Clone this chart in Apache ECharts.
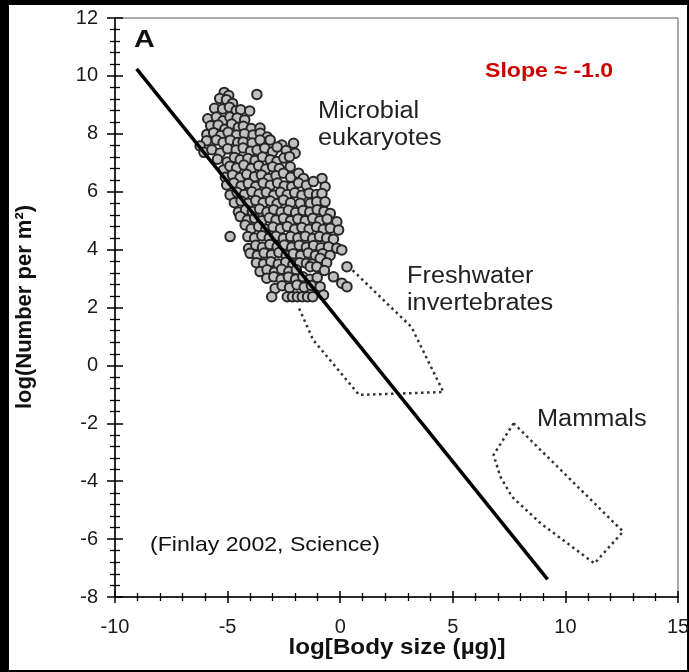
<!DOCTYPE html>
<html>
<head>
<meta charset="utf-8">
<script src="https://cdn.jsdelivr.net/npm/echarts@6/dist/echarts.min.js"></script>
<style>
  html, body { margin: 0; padding: 0; background: #000; }
  #sheet { position: absolute; left: 9px; top: 5px; width: 678px; height: 665px; background: #fff; }
  #chart { position: absolute; left: 0; top: 0; width: 689px; height: 672px; }
</style>
</head>
<body>
<div id="sheet"></div>
<div id="chart"></div>
<script>
// Axis ticks (log10 units)
const xTicks = [-10, -5, 0, 5, 10, 15];
const yTicks = [-8, -6, -4, -2, 0, 2, 4, 6, 8, 10, 12];

// Microbial eukaryotes: [log body size (µg), log number per m²]
const microbialPoints = [
  [-5.15, 9.43], [-4.95, 9.32], [-3.70, 9.36],
  [-5.35, 9.22], [-5.05, 9.18], [-4.78, 9.05],
  [-5.58, 8.88], [-5.22, 8.86], [-4.92, 8.92], [-4.62, 8.80], [-4.42, 8.83], [-4.02, 8.79],
  [-5.88, 8.52], [-5.50, 8.58], [-5.20, 8.45], [-4.90, 8.58], [-4.58, 8.55], [-4.24, 8.48],
  [-5.75, 8.28], [-5.42, 8.30], [-5.12, 8.16], [-4.82, 8.34], [-4.52, 8.22], [-4.30, 8.26], [-3.95, 8.18], [-3.56, 8.20],
  [-5.92, 7.98], [-5.62, 8.04], [-5.30, 7.94], [-4.98, 8.05], [-4.60, 7.96], [-4.25, 8.00], [-3.87, 7.96], [-3.55, 8.02], [-3.24, 7.89],
  [-5.93, 7.76], [-5.50, 7.79], [-5.20, 7.70], [-4.88, 7.78], [-4.55, 7.70], [-4.31, 7.72], [-3.91, 7.68], [-3.56, 7.79], [-3.11, 7.79], [-2.59, 7.61], [-2.07, 7.67],
  [-6.22, 7.58], [-6.05, 7.36], [-5.70, 7.45], [-5.33, 7.34], [-5.00, 7.48], [-4.62, 7.44], [-4.31, 7.51], [-3.98, 7.40], [-3.69, 7.44], [-3.35, 7.50], [-3.00, 7.38], [-2.80, 7.54], [-2.40, 7.42], [-2.00, 7.33],
  [-5.45, 7.12], [-5.02, 7.03], [-4.70, 7.18], [-4.44, 7.10], [-4.10, 7.15], [-3.78, 7.08], [-3.45, 7.20], [-3.11, 7.10], [-2.81, 7.04], [-2.50, 7.16], [-2.25, 7.21],
  [-5.19, 6.75], [-4.90, 6.88], [-4.60, 6.82], [-4.28, 6.92], [-3.95, 6.80], [-3.62, 6.90], [-3.30, 6.78], [-3.00, 6.86], [-2.70, 6.80], [-2.22, 6.86],
  [-5.10, 6.50], [-4.78, 6.58], [-4.45, 6.48], [-4.15, 6.60], [-3.80, 6.52], [-3.50, 6.58], [-3.18, 6.46], [-2.85, 6.55], [-2.52, 6.64], [-2.20, 6.50], [-1.85, 6.64], [-1.63, 6.46], [-0.81, 6.46],
  [-5.04, 6.23], [-4.72, 6.30], [-4.40, 6.20], [-4.08, 6.28], [-3.75, 6.18], [-3.42, 6.30], [-3.10, 6.22], [-2.78, 6.30], [-2.48, 6.20], [-2.15, 6.17], [-1.85, 6.30], [-1.50, 6.22], [-1.19, 6.35], [-0.67, 6.17],
  [-4.89, 5.89], [-4.58, 5.98], [-4.25, 5.90], [-3.92, 6.00], [-3.60, 5.92], [-3.28, 5.98], [-2.95, 5.88], [-2.65, 5.98], [-2.35, 5.90], [-2.02, 5.96], [-1.70, 5.88], [-1.38, 5.95], [-1.05, 5.90], [-0.81, 5.94],
  [-4.70, 5.62], [-4.40, 5.68], [-4.08, 5.60], [-3.75, 5.70], [-3.42, 5.62], [-3.10, 5.68], [-2.80, 5.58], [-2.52, 5.71], [-2.20, 5.62], [-1.78, 5.60], [-1.33, 5.60], [-1.04, 5.65], [-0.67, 5.65],
  [-4.52, 5.30], [-4.20, 5.38], [-3.90, 5.32], [-3.58, 5.40], [-3.25, 5.30], [-2.95, 5.38], [-2.62, 5.30], [-2.30, 5.36], [-1.98, 5.28], [-1.65, 5.35], [-1.35, 5.30], [-1.02, 5.38], [-0.72, 5.32], [-0.44, 5.25],
  [-4.44, 5.14], [-4.12, 5.02], [-3.80, 5.08], [-3.48, 5.00], [-3.15, 5.10], [-2.85, 5.02], [-2.52, 5.08], [-2.20, 5.00], [-1.88, 5.06], [-1.55, 5.00], [-1.22, 5.08], [-0.90, 5.00], [-0.58, 5.06], [-0.15, 4.96],
  [-4.22, 4.85], [-3.95, 4.72], [-3.62, 4.80], [-3.30, 4.70], [-2.98, 4.78], [-2.65, 4.72], [-2.35, 4.80], [-2.02, 4.70], [-1.70, 4.76], [-1.38, 4.70], [-1.05, 4.78], [-0.75, 4.70], [-0.44, 4.74], [-0.07, 4.68], [-4.89, 4.45],
  [-4.10, 4.45], [-3.80, 4.40], [-3.48, 4.48], [-3.15, 4.40], [-2.85, 4.46], [-2.52, 4.38], [-2.20, 4.45], [-1.88, 4.40], [-1.55, 4.46], [-1.22, 4.38], [-0.92, 4.45], [-0.60, 4.40], [-0.30, 4.36],
  [-4.07, 4.04], [-3.75, 4.15], [-3.45, 4.08], [-3.12, 4.18], [-2.80, 4.10], [-2.48, 4.16], [-2.15, 4.08], [-1.82, 4.15], [-1.50, 4.08], [-1.18, 4.14], [-0.85, 4.06], [-0.52, 4.10], [-0.15, 4.05], [0.07, 3.99],
  [-4.00, 3.87], [-3.68, 3.80], [-3.38, 3.88], [-3.05, 3.82], [-2.72, 3.90], [-2.40, 3.80], [-2.08, 3.86], [-1.75, 3.80], [-1.42, 3.88], [-1.10, 3.80], [-0.78, 3.86], [-0.45, 3.80],
  [-3.72, 3.55], [-3.40, 3.50], [-3.08, 3.58], [-2.75, 3.50], [-2.42, 3.56], [-2.10, 3.48], [-1.80, 3.55], [-1.50, 3.53], [-1.25, 3.50], [-0.89, 3.70], [-0.60, 3.55],
  [-3.56, 3.24], [-3.25, 3.30], [-2.92, 3.22], [-2.60, 3.32], [-2.28, 3.24], [-1.95, 3.30], [-1.33, 3.41], [-1.04, 3.41], [-0.70, 3.28], [0.30, 3.41],
  [-3.26, 3.01], [-2.95, 3.06], [-2.62, 2.98], [-2.30, 3.05], [-1.98, 2.98], [-1.66, 3.06], [-1.35, 2.98], [-1.02, 3.04], [-0.30, 3.06],
  [-2.89, 2.66], [-2.58, 2.75], [-2.25, 2.68], [-1.92, 2.78], [-1.60, 2.70], [-1.28, 2.76], [-0.89, 2.72], [0.07, 2.84], [0.30, 2.72],
  [-3.04, 2.37], [-2.35, 2.37], [-2.12, 2.37], [-1.90, 2.37], [-1.68, 2.37], [-1.45, 2.37], [-1.22, 2.37], [-0.74, 2.43]
];

// Outline of the freshwater invertebrate range (dotted envelope)
const freshwaterOutline = [
  [0.36, 3.43], [3.16, 1.33], [4.58, -0.92], [0.84, -1.02], [-1.20, 0.88], [-1.87, 2.05]
];

// Outline of the mammal range (dotted envelope)
const mammalOutline = [
  [7.70, -2.00], [6.81, -3.09], [7.11, -3.84], [7.63, -4.54], [8.89, -5.45],
  [11.29, -6.84], [12.56, -5.74], [7.70, -2.00]
];

// Fitted abundance–size line, slope ≈ -1
const fitLine = [[-9.04, 10.24], [9.21, -7.39]];

const FONT = '"Liberation Sans", Arial, Helvetica, sans-serif';

function valueAxes(ticks, pos, majorLen, minorLen, labelMargin) {
  const step = ticks[1] - ticks[0];
  const base = {
    type: 'value',
    position: pos,
    min: ticks[0],
    max: ticks[ticks.length - 1],
    interval: step,
    splitLine: { show: false },
    minorSplitLine: { show: false }
  };
  // outward half of each tick, with labels
  const outer = Object.assign({}, base, {
    axisLine: { show: true, onZero: false, lineStyle: { color: '#000', width: 1.5 } },
    axisTick: { show: true, inside: false, length: majorLen, lineStyle: { color: '#000', width: 1.5 } },
    minorTick: { show: true, splitNumber: 5, length: minorLen, lineStyle: { color: '#000', width: 1.3 } },
    axisLabel: {
      show: true, fontFamily: FONT, fontSize: 20, color: '#1a1a1a', margin: labelMargin,
      showMinLabel: true, showMaxLabel: true, hideOverlap: false
    }
  });
  // inward half of each tick, so the ticks cross the axis line
  const inner = Object.assign({}, base, {
    axisLine: { show: false, onZero: false },
    axisTick: { show: true, inside: false, length: -majorLen, lineStyle: { color: '#000', width: 1.5 } },
    minorTick: { show: true, splitNumber: 5, length: -minorLen, lineStyle: { color: '#000', width: 1.3 } },
    axisLabel: { show: false }
  });
  return [outer, inner];
}

const chart = echarts.init(document.getElementById('chart'), null, { renderer: 'canvas' });

const textColor = '#222';

chart.setOption({
  backgroundColor: 'transparent',
  animation: false,
  grid: {
    left: 115, top: 18, right: 11, bottom: 75,
    show: true, borderColor: '#555', borderWidth: 1, backgroundColor: 'transparent',
    containLabel: false, outerBoundsMode: 'none'
  },
  xAxis: valueAxes(xTicks, 'bottom', 6, 4, 20),
  yAxis: valueAxes(yTicks, 'left', 8, 5, 17),
  series: [
    {
      name: 'Freshwater invertebrates', type: 'line', data: freshwaterOutline,
      xAxisIndex: 0, yAxisIndex: 0, symbol: 'none', silent: true, z: 1,
      lineStyle: { color: '#333', width: 2.5, type: [2.5, 3.5], cap: 'butt' }
    },
    {
      name: 'Mammals', type: 'line', data: mammalOutline,
      xAxisIndex: 0, yAxisIndex: 0, symbol: 'none', silent: true, z: 1,
      lineStyle: { color: '#333', width: 2.5, type: [2.5, 3.5], cap: 'butt' }
    },
    {
      name: 'Microbial eukaryotes', type: 'scatter', data: microbialPoints,
      xAxisIndex: 0, yAxisIndex: 0, symbol: 'circle', symbolSize: 9.5, z: 2,
      itemStyle: { color: '#c0c0c0', borderColor: '#262626', borderWidth: 2, opacity: 1 }
    },
    {
      name: 'Fit', type: 'line', data: fitLine,
      xAxisIndex: 0, yAxisIndex: 0, symbol: 'none', silent: true, z: 3,
      lineStyle: { color: '#000', width: 3.5, cap: 'butt' }
    }
  ],
  graphic: [
    { type: 'text', x: 134, y: 41, scaleX: 1.25, silent: true,
      style: { text: 'A', font: 'bold 23px ' + FONT, fill: '#111', textAlign: 'left', align: 'left', textVerticalAlign: 'middle', verticalAlign: 'middle' } },
    { type: 'text', x: 485, y: 71, scaleX: 1.1, silent: true,
      style: { text: 'Slope \u2248 -1.0', font: 'bold 21px ' + FONT, fill: '#cc0000', textAlign: 'left', align: 'left', textVerticalAlign: 'middle', verticalAlign: 'middle' } },
    { type: 'text', x: 318, y: 98.5, scaleX: 1.1, silent: true,
      style: { text: 'Microbial\neukaryotes', font: '23px ' + FONT, lineHeight: 27, fill: textColor, textAlign: 'left', align: 'left', textVerticalAlign: 'top', verticalAlign: 'top' } },
    { type: 'text', x: 407, y: 263.5, scaleX: 1.1, silent: true,
      style: { text: 'Freshwater\ninvertebrates', font: '23px ' + FONT, lineHeight: 27, fill: textColor, textAlign: 'left', align: 'left', textVerticalAlign: 'top', verticalAlign: 'top' } },
    { type: 'text', x: 537, y: 420, scaleX: 1.1, silent: true,
      style: { text: 'Mammals', font: '23px ' + FONT, fill: textColor, textAlign: 'left', align: 'left', textVerticalAlign: 'middle', verticalAlign: 'middle' } },
    { type: 'text', x: 150, y: 545.5, scaleX: 1.1, silent: true,
      style: { text: '(Finlay 2002, Science)', font: '21px ' + FONT, fill: '#111', textAlign: 'left', align: 'left', textVerticalAlign: 'middle', verticalAlign: 'middle' } },
    { type: 'text', x: 397, y: 648, scaleX: 1.1, silent: true,
      style: { text: 'log[Body size (\u00b5g)]', font: 'bold 22px ' + FONT, fill: '#111', textAlign: 'center', align: 'center', textVerticalAlign: 'middle', verticalAlign: 'middle' } },
    { type: 'text', x: 25, y: 307, rotation: Math.PI / 2, silent: true,
      style: { text: 'log(Number per m\u00b2)', font: 'bold 22px ' + FONT, fill: '#111', textAlign: 'center', align: 'center', textVerticalAlign: 'middle', verticalAlign: 'middle' } }
  ]
});
</script>
</body>
</html>
